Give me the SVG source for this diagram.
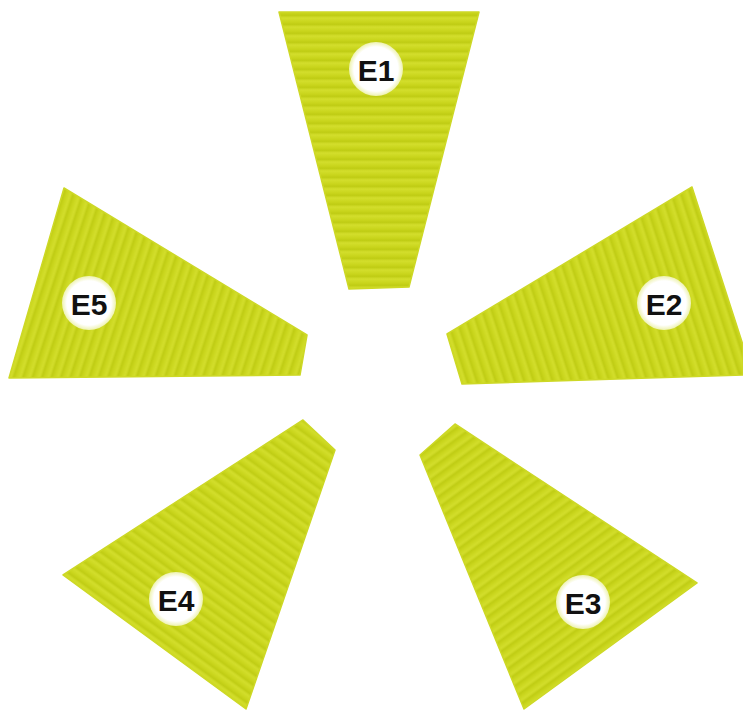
<svg xmlns="http://www.w3.org/2000/svg" width="743" height="712" viewBox="0 0 743 712">
<defs>
<linearGradient id="sg" x1="0" y1="0" x2="0" y2="1">
<stop offset="0" stop-color="#d3de2c"/>
<stop offset="0.45" stop-color="#c9d51c"/>
<stop offset="0.7" stop-color="#bfcc14"/>
<stop offset="1" stop-color="#d3de2c"/>
</linearGradient>
<pattern id="p0" width="40" height="9" patternUnits="userSpaceOnUse"><rect width="40" height="9" fill="url(#sg)"/></pattern>
<pattern id="p1" href="#p0" patternTransform="rotate(72 377 380)"/>
<pattern id="p2" href="#p0" patternTransform="rotate(144 377 380)"/>
<pattern id="p3" href="#p0" patternTransform="rotate(36 377 380)"/>
<pattern id="p4" href="#p0" patternTransform="rotate(108 377 380)"/>
<radialGradient id="cg">
<stop offset="0" stop-color="#ffffff"/>
<stop offset="0.82" stop-color="#ffffff"/>
<stop offset="1" stop-color="#eef2b0"/>
</radialGradient>
</defs>
<style>
.piece{stroke:#cdd826;stroke-width:1.5;stroke-linejoin:round}
.badge{fill:url(#cg)}
.lbl{font-family:"Liberation Sans",Arial,sans-serif;font-weight:bold;font-size:30px;fill:#111111;text-anchor:middle;dominant-baseline:central}
</style>
<rect width="743" height="712" fill="#ffffff"/>
<g id="E1">
<polygon class="piece" fill="url(#p0)" points="279,12 479,12 409,287 349,289"/>
<circle class="badge" cx="376" cy="69" r="27"/>
<text class="lbl" x="376" y="70">E1</text>
</g>
<g id="E2">
<polygon class="piece" fill="url(#p1)" points="447,334 692,187 743,345 743,375 462,384"/>
<circle class="badge" cx="664" cy="303" r="27"/>
<text class="lbl" x="664" y="304">E2</text>
</g>
<g id="E3">
<polygon class="piece" fill="url(#p2)" points="420,455 455,424 697,583 524,709"/>
<circle class="badge" cx="583" cy="602" r="27"/>
<text class="lbl" x="583" y="603">E3</text>
</g>
<g id="E4">
<polygon class="piece" fill="url(#p3)" points="63,575 303,420 335,450 246,709"/>
<circle class="badge" cx="176" cy="599" r="27"/>
<text class="lbl" x="176" y="600">E4</text>
</g>
<g id="E5">
<polygon class="piece" fill="url(#p4)" points="64,188 307,335 300,375 9,378"/>
<circle class="badge" cx="89" cy="303" r="27"/>
<text class="lbl" x="89" y="304">E5</text>
</g>
</svg>
